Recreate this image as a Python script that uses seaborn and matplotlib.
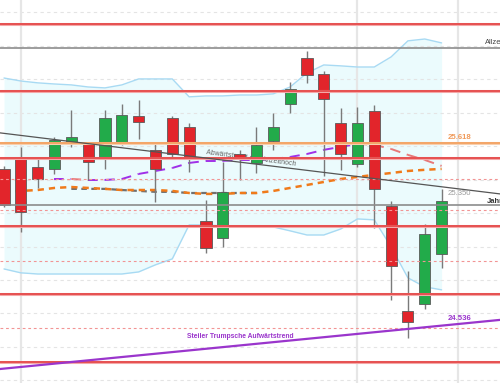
import numpy as np
import pandas as pd
import matplotlib
matplotlib.use("Agg")
import matplotlib.pyplot as plt
import seaborn as sns

# ---------------- data (index points) ----------------
opens  = [25507, 25550, 25516, 25507, 25620, 25620, 25550, 25620, 25738, 25590,
          25729, 25690, 25280, 25206, 25572, 25533, 25629, 25790, 25991, 25921,
          25707, 25529, 25760, 25346, 24888, 24919, 25137]
highs  = [25520, 25603, 25550, 25646, 25764, 25625, 25764, 25790, 25808, 25625,
          25738, 25707, 25372, 25537, 25590, 25690, 25751, 25886, 26021, 25934,
          25773, 25777, 25786, 25367, 25062, 25267, 25420]
lows   = [25341, 25232, 25424, 25485, 25603, 25459, 25507, 25612, 25638, 25363,
          25550, 25494, 25141, 25167, 25459, 25490, 25590, 25751, 25882, 25476,
          25503, 25516, 25250, 24936, 24770, 24897, 25076]
closes = [25350, 25319, 25463, 25633, 25646, 25537, 25729, 25742, 25712, 25507,
          25572, 25559, 25163, 25407, 25550, 25612, 25690, 25856, 25917, 25812,
          25572, 25707, 25420, 25084, 24840, 25224, 25367]

bb_upper = [25903, 25890, 25882, 25877, 25873, 25864, 25860, 25873, 25899, 25899,
            25899, 25821, 25825, 25825, 25829, 25829, 25834, 25864, 25925, 25960,
            25956, 25951, 25951, 25995, 26065, 26073, 26056]
bb_lower = [25071, 25054, 25049, 25049, 25049, 25049, 25049, 25049, 25058, 25089,
            25115, 25263, 25263, 25258, 25258, 25258, 25254, 25237, 25219, 25219,
            25245, 25289, 25285, 25167, 25032, 24993, 24980]
bb_mid_start = 4
bb_mid = [25420, 25420, 25420, 25415, 25411, 25407, 25407, 25402, 25402, 25402,
          25402, 25402]
ema = [25407, 25411, 25415, 25424, 25428, 25424, 25420, 25415, 25415, 25415,
       25411, 25402, 25398, 25398, 25402, 25402, 25411, 25424, 25437, 25450,
       25463, 25472, 25481, 25489, 25498, 25503, 25507]
ma_start = 3
ma = [25463, 25463, 25459, 25459, 25463, 25485, 25498, 25511, 25533, 25542,
      25542, 25546, 25546, 25550, 25559, 25572, 25590, 25603, 25616, 25612,
      25594, 25568, 25546, 25520]

red_levels = [26139, 25847, 25555, 25256, 24962, 24666]
pink_levels = [25463, 25328, 25106, 24814]
orange_level = 25618
ath_level = 26034
year_level = 25350
grid_levels = [26191, 26043, 25899, 25751, 25607, 25459, 25315, 25167, 25023,
               24879, 24731, 24587]
vgrid = [1, 21, 27]
down_x, down_y = [-0.24, 29.47], [25664, 25398]
up_x, up_y = [-0.24, 29.47], [24635, 24849]

label_orange = "25.618"
label_year_val = "25.350"
label_trump_val = "24.536"
label_ath = "Allzeithoch"
label_year = "Jahreshoch"
label_down = "Abwärtstrend seit Allzeithoch"
label_up = "Steiler Trumpsche Aufwärtstrend"

# ---------------- drawing ----------------
sns.set_style("white")
plt.rcParams["font.family"] = ["Liberation Sans", "DejaVu Sans"]

fig = plt.figure(figsize=(5.0, 3.83), dpi=100)
ax = fig.add_axes([0, 0, 1, 1])
ax.set_xlim(-0.238, 29.47)
ax.set_ylim(24574, 26243)
ax.axis("off")

idx = np.arange(len(opens))
df = pd.DataFrame({"i": idx, "open": opens, "high": highs, "low": lows,
                   "close": closes, "upper": bb_upper, "lower": bb_lower,
                   "ema": ema})

# grid
for g in grid_levels:
    ax.axhline(g, color="#e4e4e4", lw=0.8, ls=(0, (3, 3)), zorder=1)
for v in vgrid:
    ax.axvline(v, color="#e6e6e6", lw=1.6, zorder=1)

# bollinger band
ax.fill_between(idx, bb_lower, bb_upper, color="#ebfbfd", zorder=0.5, lw=0)
sns.lineplot(data=df, x="i", y="upper", color="#a8daf3", lw=1.0, ax=ax,
             zorder=1.5, legend=False)
sns.lineplot(data=df, x="i", y="lower", color="#a8daf3", lw=1.0, ax=ax,
             zorder=1.5, legend=False)

# middle band (gray dashed) and EMA (orange dashed)
dmid = pd.DataFrame({"i": np.arange(bb_mid_start, bb_mid_start + len(bb_mid)),
                     "v": bb_mid})
sns.lineplot(data=dmid, x="i", y="v", color="#707070", lw=1.6, ax=ax,
             zorder=2, legend=False)
ax.lines[-1].set_dashes([2.5, 2])
sns.lineplot(data=df, x="i", y="ema", color="#f07a1a", lw=1.8, ax=ax,
             zorder=2.1, legend=False)
ax.lines[-1].set_dashes([2.5, 2])

# moving average coloured by direction
ma_x = np.arange(ma_start, ma_start + len(ma))
for k in range(len(ma) - 1):
    col = "#a030e8" if ma[k + 1] >= ma[k] else "#e87878"
    ax.plot(ma_x[k:k + 2], ma[k:k + 2], color=col, lw=1.4,
            dashes=[5, 3.5], zorder=2.2)

# candles
up = df["close"] >= df["open"]
colors = np.where(up, "#22ab4a", "#e2252b")
ax.vlines(df["i"], df["low"], df["high"], color="#7a7a7a", lw=1.0, zorder=3)
ax.bar(df["i"], (df["close"] - df["open"]).abs(),
       bottom=np.minimum(df["open"], df["close"]), width=0.66,
       color=colors, edgecolor="#5a5a5a", lw=0.6, zorder=3.5)

# horizontal levels
for r in red_levels:
    ax.axhline(r, color="#f4a8a8", lw=2.2, zorder=4)
    ax.axhline(r, color="#e23a3a", lw=1.1, zorder=4.1)
for p in pink_levels:
    ax.axhline(p, color="#f29494", lw=0.8, ls=(0, (2.5, 2.5)), zorder=4)
ax.axhline(orange_level, color="#f8cfae", lw=2.2, zorder=4)
ax.axhline(orange_level, color="#f29a55", lw=1.1, zorder=4.1)
ax.axhline(ath_level, color="#8c8c8c", lw=1.2, zorder=4)
ax.axhline(year_level, color="#8c8c8c", lw=1.2, zorder=4)

# trend lines
ax.plot(down_x, down_y, color="#555555", lw=0.9, zorder=4.2)
ax.plot(up_x, up_y, color="#9a35cc", lw=1.6, zorder=4.2)

# texts
ax.text(27.04, 25642, label_orange, color="#f09a5a", fontsize=5.6,
        fontweight="bold", ha="center", va="center", zorder=6)
ax.text(27.04, 25398, label_year_val, color="#9a9a9a", fontsize=5.6,
        ha="center", va="center", zorder=6)
ax.text(27.04, 24853, label_trump_val, color="#9a35cc", fontsize=5.6,
        fontweight="bold", ha="center", va="center", zorder=6)
ax.text(28.58, 26056, label_ath, color="#444444", fontsize=5.4,
        ha="left", va="center", zorder=6, clip_on=True)
ax.text(28.70, 25367, label_year, color="#333333", fontsize=5.4,
        fontweight="bold", ha="left", va="center", zorder=6, clip_on=True)
ax.text(14.02, 24775, label_up, color="#9a35cc", fontsize=4.9,
        fontweight="bold", ha="center", va="center", zorder=6)
ax.text(12.0, 25577, label_down, color="#666666", fontsize=5.0,
        rotation=-7.5, rotation_mode="anchor", ha="left", va="center",
        zorder=3.2)

fig.savefig("out.png", dpi=100)
